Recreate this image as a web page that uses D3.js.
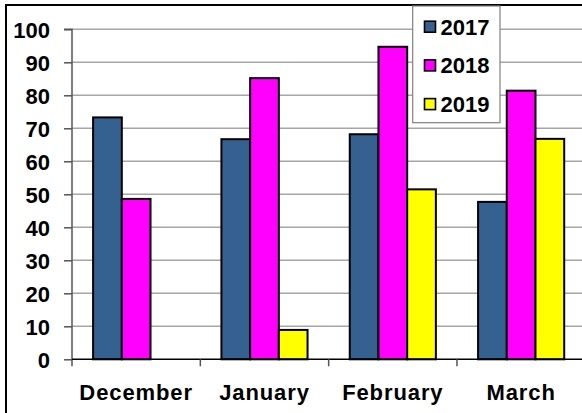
<!DOCTYPE html>
<html><head><meta charset="utf-8">
<script src="https://cdn.jsdelivr.net/npm/d3@7"></script>
<style>body{margin:0;background:#fff}svg{display:block}text{font-family:"Liberation Sans",Arial,sans-serif;font-weight:bold}</style>
</head><body>
<svg id="c" width="582" height="413"></svg>
<script>
const categories = ["December","January","February","March"];
const seriesNames = ["2017","2018","2019"];
const values2017 = [73.3, 66.7, 68.2, 47.7];
const values2018 = [48.6, 85.2, 94.7, 81.4];
const values2019 = [null, 8.9, 51.5, 66.8];
const yTicks = [0,10,20,30,40,50,60,70,80,90,100];
const colors = ["#356191","#FF00FF","#FFFF00"];

const series = [values2017, values2018, values2019];
const svg = d3.select("#c");
const mLeft = 72, mRight = 585.3, mTop = 29.3, mBottom = 359.3;

const x = d3.scaleBand().domain(categories).range([mLeft, mRight]).paddingInner(0).paddingOuter(0);
const y = d3.scaleLinear().domain([0,100]).range([mBottom, mTop]);
const xs = d3.scaleBand().domain(seriesNames).range([0, x.bandwidth()]).paddingInner(0).paddingOuter(0.735);

// outer border
svg.append("rect").attr("x",6).attr("y",5).attr("width",590).attr("height",420)
  .attr("fill","none").attr("stroke","#000").attr("stroke-width",2);

// gridlines
svg.append("g").selectAll("line").data(yTicks.filter(d=>d>0)).join("line")
  .attr("x1",mLeft).attr("x2",582).attr("y1",d=>y(d)).attr("y2",d=>y(d))
  .attr("stroke","#a6a6a6").attr("stroke-width",1.6);

// y axis
const yAxis = d3.axisLeft(y).tickValues(yTicks).tickSize(8).tickPadding(14);
const gy = svg.append("g").attr("transform",`translate(${mLeft},0)`).call(yAxis);
gy.select(".domain").attr("stroke","#555").attr("stroke-width",1.5).attr("d",`M-8,${mTop}H0V${mBottom+7}`);
gy.selectAll(".tick line").attr("stroke","#555").attr("stroke-width",1.5);
gy.selectAll(".tick text").attr("font-size",22).attr("font-weight","bold").attr("fill","#000")
  .attr("font-family",'"Liberation Sans",Arial,sans-serif').attr("dy","0.36em");

// bars
const g = svg.append("g");
categories.forEach((c,i)=>{
  series.forEach((s,j)=>{
    if (s[i]==null) return;
    g.append("rect").attr("x",x(c)+xs(seriesNames[j])).attr("width",xs.bandwidth())
      .attr("y",y(s[i])).attr("height",y(0)-y(s[i]))
      .attr("fill",colors[j]).attr("stroke","#000").attr("stroke-width",2);
  });
});

// x axis
const xAxis = d3.axisBottom(x).tickSize(0).tickPadding(20);
const gx = svg.append("g").attr("transform",`translate(0,${mBottom})`).call(xAxis);
gx.select(".domain").attr("stroke","#000").attr("stroke-width",1.5).attr("d",`M${mLeft},0H582`);
gx.selectAll(".tick text").attr("font-size",22).attr("font-weight","bold").attr("fill","#000")
  .attr("letter-spacing","0.9px").attr("dy","0.95em")
  .attr("font-family",'"Liberation Sans",Arial,sans-serif');
// boundary ticks
svg.append("g").selectAll("line").data(categories.slice(1)).join("line")
  .attr("x1",d=>x(d)).attr("x2",d=>x(d)).attr("y1",mBottom).attr("y2",mBottom+7)
  .attr("stroke","#555").attr("stroke-width",1.5);

// legend
const lg = svg.append("g");
lg.append("rect").attr("x",412.7).attr("y",6).attr("width",87.3).attr("height",116.7)
  .attr("fill","#fff").attr("stroke","#808080").attr("stroke-width",1.2);
seriesNames.forEach((n,j)=>{
  const cy = 26.7 + j*38.7;
  lg.append("rect").attr("x",424.5).attr("y",cy-5.5).attr("width",11).attr("height",11)
    .attr("fill",colors[j]).attr("stroke","#000").attr("stroke-width",1.6);
  lg.append("text").attr("x",440.5).attr("y",cy).attr("dy","0.36em")
    .attr("font-size",22).text(n);
});
</script>
</body></html>
